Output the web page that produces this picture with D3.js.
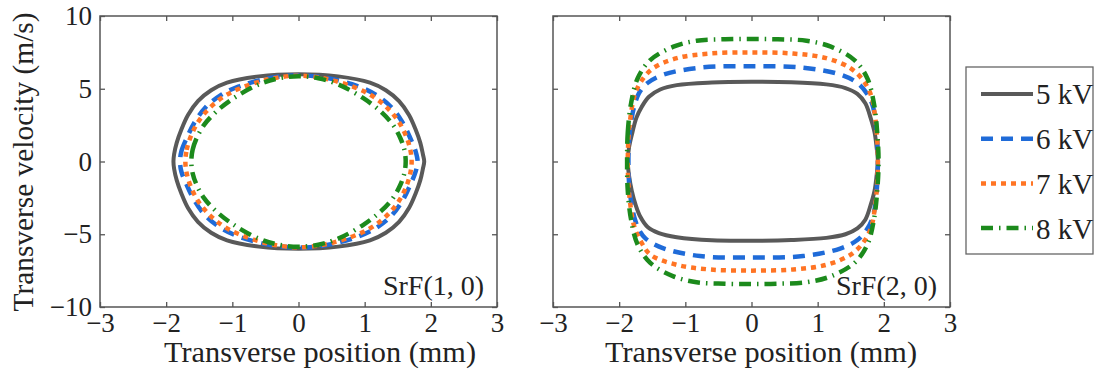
<!DOCTYPE html>
<html>
<head>
<meta charset="utf-8">
<script src="https://cdn.jsdelivr.net/npm/d3@7"></script>
<style>
  html, body { margin: 0; padding: 0; background: #fff; }
  svg { display: block; }
  text { font-family: "Liberation Serif", "DejaVu Serif", serif; fill: #222; }
</style>
</head>
<body>
<svg id="chart" width="1094" height="374"></svg>
<script>
// Phase-space contours (transverse position in mm, transverse velocity in m/s)
const seriesLabels = ["5 kV", "6 kV", "7 kV", "8 kV"];
const xTicks = [-3, -2, -1, 0, 1, 2, 3];
const yTicks = [-10, -5, 0, 5, 10];
const panelLabels = ["SrF(1, 0)", "SrF(2, 0)"];

// SrF(1,0) contours
const srf10_5kV = [[-1.89,0],[-1.88,0.5],[-1.84,1.3],[-1.77,2.2],[-1.67,3.2],[-1.52,4.15],[-1.32,4.9],[-1.08,5.42],[-0.6,5.85],[0,6.0],[0.6,5.85],[1.08,5.42],[1.32,4.9],[1.52,4.15],[1.67,3.2],[1.77,2.2],[1.84,1.3],[1.88,0.5],[1.9,0],[1.88,-0.5],[1.84,-1.3],[1.77,-2.2],[1.67,-3.2],[1.52,-4.15],[1.32,-4.9],[1.08,-5.42],[0.6,-5.85],[0,-6.0],[-0.6,-5.85],[-1.08,-5.42],[-1.32,-4.9],[-1.52,-4.15],[-1.67,-3.2],[-1.77,-2.2],[-1.84,-1.3],[-1.88,-0.5]];
const srf10_6kV = [[-1.79,0],[-1.77,0.7],[-1.69,1.6],[-1.57,2.7],[-1.4,3.75],[-1.18,4.55],[-0.91,5.15],[-0.43,5.74],[0,5.92],[0.43,5.74],[0.91,5.15],[1.18,4.55],[1.4,3.75],[1.57,2.7],[1.69,1.6],[1.77,0.7],[1.8,0],[1.77,-0.7],[1.69,-1.6],[1.57,-2.7],[1.4,-3.75],[1.18,-4.55],[0.91,-5.15],[0.43,-5.74],[0,-5.92],[-0.43,-5.74],[-0.91,-5.15],[-1.18,-4.55],[-1.4,-3.75],[-1.57,-2.7],[-1.69,-1.6],[-1.77,-0.7]];
const srf10_7kV = [[-1.71,0],[-1.69,0.8],[-1.63,1.7],[-1.52,2.7],[-1.36,3.6],[-1.15,4.4],[-0.9,5.0],[-0.45,5.65],[0,5.9],[0.45,5.65],[0.9,5.0],[1.15,4.4],[1.36,3.6],[1.52,2.7],[1.63,1.7],[1.69,0.8],[1.71,0],[1.69,-0.8],[1.63,-1.7],[1.52,-2.7],[1.36,-3.6],[1.15,-4.4],[0.9,-5.0],[0.45,-5.65],[0,-5.9],[-0.45,-5.65],[-0.9,-5.0],[-1.15,-4.4],[-1.36,-3.6],[-1.52,-2.7],[-1.63,-1.7],[-1.69,-0.8]];
const srf10_8kV = [[-1.62,0],[-1.6,0.8],[-1.54,1.6],[-1.43,2.5],[-1.25,3.4],[-0.98,4.35],[-0.6,5.3],[-0.3,5.72],[0,5.86],[0.3,5.72],[0.6,5.3],[0.98,4.35],[1.25,3.4],[1.43,2.5],[1.54,1.6],[1.6,0.8],[1.62,0],[1.6,-0.8],[1.54,-1.6],[1.43,-2.5],[1.25,-3.4],[0.98,-4.35],[0.6,-5.3],[0.3,-5.72],[0,-5.86],[-0.3,-5.72],[-0.6,-5.3],[-0.98,-4.35],[-1.25,-3.4],[-1.43,-2.5],[-1.54,-1.6],[-1.6,-0.8]];

// SrF(2,0) contours
const srf20_5kV = [[-1.87,0],[-1.85,1.0],[-1.8,2.0],[-1.74,3.0],[-1.66,3.75],[-1.55,4.45],[-1.38,4.95],[-1.13,5.25],[-0.6,5.43],[0,5.48],[0.6,5.45],[1.13,5.3],[1.42,5.05],[1.6,4.65],[1.72,4.0],[1.8,3.0],[1.86,2.0],[1.89,1.0],[1.91,0],[1.89,-1.0],[1.86,-2.0],[1.8,-3.0],[1.72,-4.0],[1.6,-4.6],[1.42,-5.0],[1.13,-5.25],[0.6,-5.4],[0,-5.45],[-0.6,-5.42],[-1.13,-5.2],[-1.4,-4.92],[-1.57,-4.5],[-1.68,-3.8],[-1.75,-3.0],[-1.81,-2.0],[-1.85,-1.0]];
const srf20_6kV = [[-1.86,0],[-1.85,1.5],[-1.81,3.0],[-1.76,4.0],[-1.7,4.7],[-1.58,5.37],[-1.34,5.95],[-0.78,6.45],[0,6.55],[0.78,6.45],[1.34,5.98],[1.6,5.4],[1.74,4.7],[1.82,4.0],[1.87,3.0],[1.9,1.5],[1.91,0],[1.9,-1.5],[1.87,-3.0],[1.82,-4.0],[1.74,-4.7],[1.6,-5.4],[1.34,-5.98],[0.78,-6.5],[0,-6.6],[-0.78,-6.5],[-1.34,-5.95],[-1.6,-5.3],[-1.7,-4.7],[-1.76,-4.0],[-1.81,-3.0],[-1.85,-1.5]];
const srf20_7kV = [[-1.87,0],[-1.86,1.5],[-1.83,3.0],[-1.77,4.5],[-1.67,5.5],[-1.49,6.4],[-1.13,7.1],[-0.63,7.42],[0,7.5],[0.63,7.42],[1.13,7.1],[1.5,6.4],[1.7,5.5],[1.81,4.5],[1.87,3.0],[1.9,1.5],[1.91,0],[1.9,-1.5],[1.87,-3.0],[1.81,-4.5],[1.7,-5.5],[1.5,-6.4],[1.13,-7.1],[0.63,-7.42],[0,-7.5],[-0.63,-7.42],[-1.13,-7.1],[-1.53,-6.4],[-1.67,-5.5],[-1.77,-4.5],[-1.83,-3.0],[-1.86,-1.5]];
const srf20_8kV = [[-1.88,0],[-1.87,2.0],[-1.82,4.0],[-1.72,5.72],[-1.53,6.97],[-1.18,7.89],[-0.83,8.3],[-0.4,8.4],[0,8.42],[0.4,8.4],[0.83,8.3],[1.2,7.89],[1.56,6.95],[1.75,5.72],[1.85,4.0],[1.9,2.0],[1.92,0],[1.9,-2.0],[1.85,-4.0],[1.75,-5.72],[1.56,-6.95],[1.2,-7.89],[0.83,-8.3],[0.4,-8.4],[0,-8.42],[-0.4,-8.4],[-0.83,-8.3],[-1.18,-7.89],[-1.53,-6.97],[-1.72,-5.72],[-1.82,-4.0],[-1.87,-2.0]];

const panels = [
  { left: 100, label: panelLabels[0], yLabels: true,  titleX: 320, curves: [srf10_5kV, srf10_6kV, srf10_7kV, srf10_8kV] },
  { left: 553, label: panelLabels[1], yLabels: false, titleX: 761, curves: [srf20_5kV, srf20_6kV, srf20_7kV, srf20_8kV] }
];

const styles = [
  { color: "#595959", width: 4,   dash: null,          cap: "round" },
  { color: "#1f6bd8", width: 4.5, dash: "12,8",        cap: "butt" },
  { color: "#ff7424", width: 4.5, dash: "5,5",         cap: "butt" },
  { color: "#1c8a1c", width: 4.5, dash: "12,6,1.5,6",  cap: "butt" }
];

const plotW = 397, plotTop = 16, plotH = 291;
const svg = d3.select("#chart");

panels.forEach(p => {
  const x = d3.scaleLinear().domain([-3, 3]).range([p.left, p.left + plotW]);
  const y = d3.scaleLinear().domain([-10, 10]).range([plotTop + plotH, plotTop]);
  const g = svg.append("g");

  const fmt = d3.format("");
  // ticks point inward on all four sides; labels only on bottom/left
  const bx = g.append("g").attr("transform", `translate(0,${plotTop + plotH})`)
    .call(d3.axisBottom(x).tickValues(xTicks).tickSize(-5).tickPadding(6).tickFormat(fmt));
  bx.selectAll("text").style("font-size", "27px").attr("fill", "#222");
  g.append("g").attr("transform", `translate(0,${plotTop})`)
    .call(d3.axisTop(x).tickValues(xTicks).tickSize(-5).tickFormat(""));
  const ly = g.append("g").attr("transform", `translate(${p.left},0)`)
    .call(d3.axisLeft(y).tickValues(yTicks).tickSize(-5).tickPadding(8).tickFormat(p.yLabels ? fmt : ""));
  ly.selectAll("text").style("font-size", "27px").attr("fill", "#222");
  g.append("g").attr("transform", `translate(${p.left + plotW},0)`)
    .call(d3.axisRight(y).tickValues(yTicks).tickSize(-5).tickFormat(""));
  g.selectAll(".domain").remove();
  g.selectAll(".tick line").attr("stroke", "#555").attr("stroke-width", 1.3);

  g.append("rect").attr("x", p.left).attr("y", plotTop).attr("width", plotW).attr("height", plotH)
    .attr("fill", "none").attr("stroke", "#555").attr("stroke-width", 1.5);

  const line = d3.line().x(d => x(d[0])).y(d => y(d[1])).curve(d3.curveCatmullRomClosed.alpha(0.5));
  p.curves.forEach((c, i) => {
    const s = styles[i];
    g.append("path").attr("d", line(c)).attr("fill", "none")
      .attr("stroke", s.color).attr("stroke-width", s.width)
      .attr("stroke-dasharray", s.dash).attr("stroke-linecap", s.cap)
      .attr("stroke-linejoin", "round");
  });

  g.append("text").attr("x", p.left + plotW - 13).attr("y", plotTop + plotH - 12)
    .attr("text-anchor", "end").style("font-size", "28px")
    .attr("textLength", 101).attr("lengthAdjust", "spacingAndGlyphs").text(p.label);

  g.append("text").attr("x", p.titleX).attr("y", 362)
    .attr("text-anchor", "middle").style("font-size", "29px")
    .attr("textLength", 312).attr("lengthAdjust", "spacingAndGlyphs")
    .text("Transverse position (mm)");
});

svg.append("text").attr("transform", "translate(33,162) rotate(-90)")
  .attr("text-anchor", "middle").style("font-size", "29px")
  .attr("textLength", 299).attr("lengthAdjust", "spacingAndGlyphs")
  .text("Transverse velocity (m/s)");

// legend
const lg = svg.append("g");
lg.append("rect").attr("x", 966).attr("y", 67).attr("width", 127).attr("height", 187)
  .attr("fill", "#fff").attr("stroke", "#666").attr("stroke-width", 1.3);
seriesLabels.forEach((lab, i) => {
  const yy = 94 + i * 44.7;
  const s = styles[i];
  lg.append("line").attr("x1", 981).attr("x2", 1033).attr("y1", yy).attr("y2", yy)
    .attr("stroke", s.color).attr("stroke-width", s.width)
    .attr("stroke-dasharray", s.dash).attr("stroke-linecap", "butt");
  lg.append("text").attr("x", 1036).attr("y", yy).attr("dy", "0.36em")
    .style("font-size", "29px").text(lab);
});
</script>
</body>
</html>
